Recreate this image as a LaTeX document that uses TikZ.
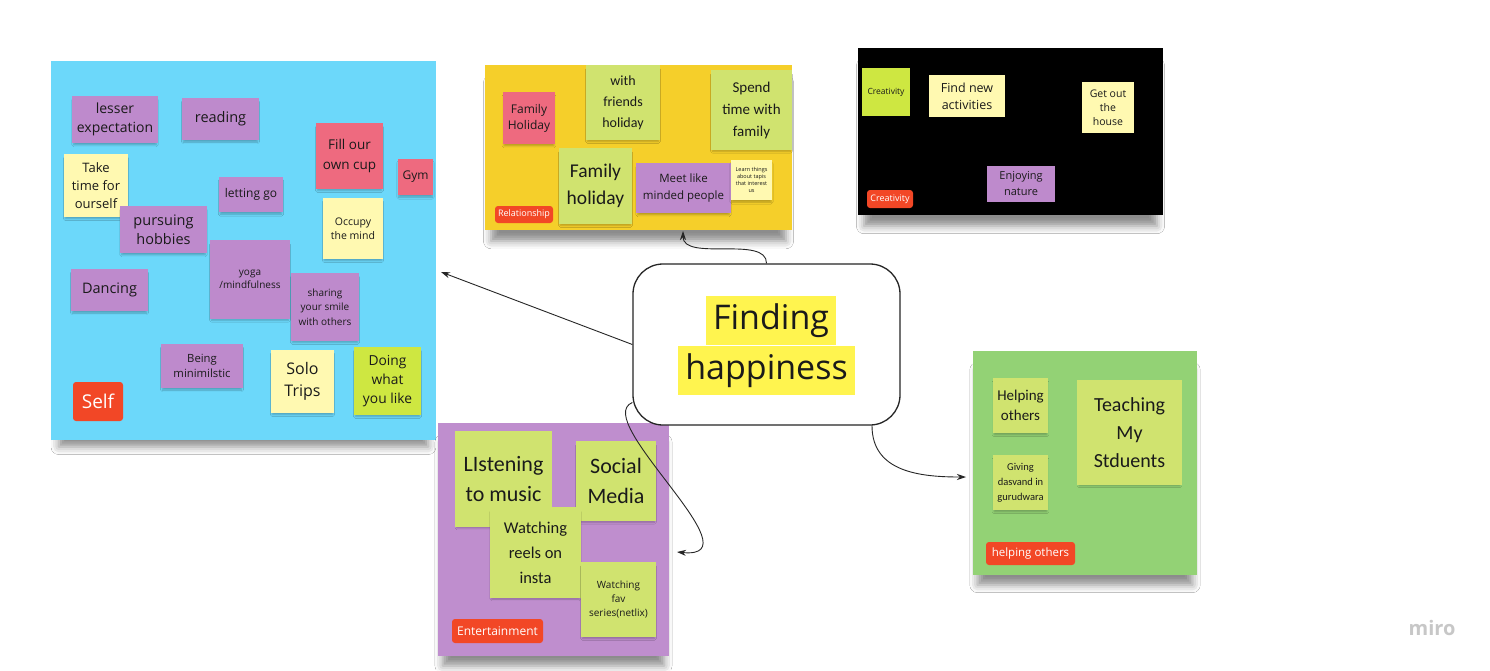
\documentclass[tikz,border=0pt]{standalone}
\usepackage{fontspec}
\setmainfont{Open Sans}
\newfontfamily\hand{Carlito}
\usetikzlibrary{arrows.meta,shadows.blur}

\definecolor{skyblue}{HTML}{6CD8FA}
\definecolor{lilac}{HTML}{BE8ACC}
\definecolor{lilacbg}{HTML}{BF8ECE}
\definecolor{paleyellow}{HTML}{FFF9B1}
\definecolor{coral}{HTML}{EE6A7F}
\definecolor{lime}{HTML}{D0E36F}
\definecolor{brightlime}{HTML}{CEE741}
\definecolor{sunflower}{HTML}{F5CF2A}
\definecolor{grass}{HTML}{93D275}
\definecolor{tagred}{HTML}{F24726}
\definecolor{marker}{HTML}{FFF44F}
\definecolor{ink}{HTML}{1A1A1A}

\newcommand{\fsz}[2]{\fontsize{#1}{#2}\selectfont}

\begin{document}
\begin{tikzpicture}[
x=1pt,y=-1pt,
boardbox/.style={fill=#1,inner sep=0pt,
  blur shadow={shadow xshift=0pt,shadow yshift=-15pt,shadow scale=0.96,shadow blur radius=8pt,shadow opacity=45}},
sticky/.style={fill=#1,inner sep=0pt,align=center,text=ink,
  blur shadow={shadow xshift=0pt,shadow yshift=-3pt,shadow scale=0.96,shadow blur radius=2pt,shadow opacity=25}},
tagbox/.style={fill=tagred,text=white,rounded corners=3pt,inner sep=0pt},
hilite/.style={fill=marker,inner xsep=7pt,inner ysep=7.5pt,text height=26pt,text depth=8pt,text=ink,font=\fsz{34}{48}},
link/.style={draw=black!85,line width=0.9pt,-{Stealth[length=9pt,width=6pt]}}
]

\fill[white] (0,0) rectangle (1490,670);
\useasboundingbox (0,0) rectangle (1490,670);

%%%%%%%%%%%%%%%%%%%%%%%%%%%%%%%%%%%%%%%%%%%%%%%%%%%%%%%%%%%%
% Self
%%%%%%%%%%%%%%%%%%%%%%%%%%%%%%%%%%%%%%%%%%%%%%%%%%%%%%%%%%%%

\node[
boardbox=skyblue,
minimum width=385,
minimum height=379
](self)
at (243.5,250.5)
{};

\node[sticky=lilac, minimum width=86, minimum height=47, font=\fsz{14}{19}]
(lesser) at (115,119.5) {lesser\\expectation};
\node[sticky=lilac, minimum width=77, minimum height=42, font=\fsz{14.5}{19}]
(reading) at (220.5,119) {reading};
\node[sticky=paleyellow, minimum width=64, minimum height=63, font=\fsz{13}{17.7}]
(taketime) at (96,185.5) {Take\\time for\\ourself};
\node[sticky=lilac, minimum width=64, minimum height=35, font=\fsz{12}{16}]
(lettinggo) at (251,194.5) {letting go};
\node[sticky=coral, minimum width=67, minimum height=66, font=\fsz{13.5}{20}]
(fillcup) at (349.5,156) {Fill our\\own cup};
\node[sticky=coral, minimum width=35, minimum height=36, font=\fsz{12}{16}]
(gym) at (415.5,177) {Gym};
\node[sticky=paleyellow, minimum width=60, minimum height=61, font=\fsz{10.5}{13.5}]
(occupy) at (353,228.5) {Occupy\\the mind};
\node[sticky=lilac, minimum width=87, minimum height=47, font=\fsz{14.5}{18.5}]
(hobbies) at (163.5,229.5) {pursuing\\hobbies};
\node[sticky=lilac, minimum width=80, minimum height=79, font=\fsz{10}{13.5}]
(yoga) at (250,279.5) {yoga\\/mindfulness};
\node[sticky=lilac, minimum width=77, minimum height=42, font=\fsz{14.5}{19}]
(dancing) at (109.5,290) {Dancing};
\node[sticky=lilac, minimum width=68, minimum height=68, font=\fsz{10}{14.3}]
(sharing) at (325,307) {sharing\\your smile\\with others};
\node[sticky=lilac, minimum width=82, minimum height=44, font=\fsz{11.3}{15.7}]
(minimal) at (202,366) {Being\\minimilstic};
\node[sticky=paleyellow, minimum width=63, minimum height=63, font=\fsz{16}{22}]
(solo) at (302.5,381.5) {Solo\\Trips};
\node[sticky=brightlime, minimum width=67, minimum height=68, font=\fsz{13.8}{19}]
(doing) at (387.5,381) {Doing\\what\\you like};
\node[tagbox, minimum width=50, minimum height=39, font=\fsz{19}{22}]
(selftag) at (98,401.5) {Self};

%%%%%%%%%%%%%%%%%%%%%%%%%%%%%%%%%%%%%%%%%%%%%%%%%%%%%%%%%%%%
% Relationship
%%%%%%%%%%%%%%%%%%%%%%%%%%%%%%%%%%%%%%%%%%%%%%%%%%%%%%%%%%%%

\node[
boardbox=sunflower,
minimum width=307,
minimum height=165
](relation)
at (638.5,147.5)
{};

\node[sticky=coral, minimum width=52, minimum height=52, font=\fsz{12}{16}]
(famhol) at (529,118) {Family\\Holiday};
\node[sticky=lime, minimum width=74, minimum height=75, font=\hand\fsz{14}{21}]
(friends) at (623,102.5) {with\\friends\\holiday};
\node[sticky=lime, minimum width=81, minimum height=80, font=\hand\fsz{15}{22}]
(spend) at (751.5,110) {Spend\\time with\\family};
\node[sticky=lime, minimum width=73, minimum height=76, font=\hand\fsz{19.5}{27}]
(famholbig) at (595.5,186) {Family\\holiday};
\node[sticky=lilac, minimum width=95, minimum height=50, font=\fsz{11.5}{16.7}]
(meet) at (683.5,188) {Meet like\\minded people};
\node[sticky=paleyellow, minimum width=41, minimum height=40, font=\fsz{5.5}{7}]
(learn) at (751.5,180) {Learn things\\about tapis\\that interest\\us};
\node[tagbox, minimum width=58, minimum height=17, font=\fsz{9}{11}]
(reltag) at (524,214.5) {Relationship};

%%%%%%%%%%%%%%%%%%%%%%%%%%%%%%%%%%%%%%%%%%%%%%%%%%%%%%%%%%%%
% Creativity
%%%%%%%%%%%%%%%%%%%%%%%%%%%%%%%%%%%%%%%%%%%%%%%%%%%%%%%%%%%%

\node[
boardbox=black,
minimum width=305,
minimum height=167
](creative)
at (1010.5,131.5)
{};

\node[sticky=brightlime, minimum width=48, minimum height=48, font=\fsz{8.5}{11}]
(crnote) at (886,92) {Creativity};
\node[sticky=paleyellow, minimum width=76, minimum height=42, font=\fsz{12.5}{16.7}]
(findnew) at (967,96) {Find new\\activities};
\node[sticky=paleyellow, minimum width=52, minimum height=51, font=\fsz{10.5}{14}]
(getout) at (1108,107.5) {Get out\\the\\house};
\node[sticky=lilac, minimum width=68, minimum height=36, font=\fsz{11}{16}]
(nature) at (1021,184) {Enjoying\\nature};
\node[tagbox, minimum width=46, minimum height=18, font=\fsz{9}{11}]
(crtag) at (890,199) {Creativity};

%%%%%%%%%%%%%%%%%%%%%%%%%%%%%%%%%%%%%%%%%%%%%%%%%%%%%%%%%%%%
% Entertainment
%%%%%%%%%%%%%%%%%%%%%%%%%%%%%%%%%%%%%%%%%%%%%%%%%%%%%%%%%%%%

\node[
boardbox=lilacbg,
minimum width=231,
minimum height=233
](enter)
at (553.5,539.5)
{};

\node[sticky=lime, minimum width=97, minimum height=96, font=\hand\fsz{22}{30}]
(listen) at (503.5,479) {LIstening\\to music};
\node[sticky=lime, minimum width=80, minimum height=80, font=\hand\fsz{22}{30}]
(social) at (616,481) {Social\\Media};
\node[sticky=lime, minimum width=91, minimum height=91, font=\hand\fsz{16.5}{25}]
(reels) at (535.5,552.5) {Watching\\reels on\\insta};
\node[sticky=lime, minimum width=75, minimum height=75, font=\fsz{10}{14.3}]
(favseries) at (618.5,599.5) {Watching\\fav\\series(netlix)};
\node[tagbox, minimum width=91, minimum height=24, font=\fsz{12}{14}]
(enttag) at (497.5,631) {Entertainment};

%%%%%%%%%%%%%%%%%%%%%%%%%%%%%%%%%%%%%%%%%%%%%%%%%%%%%%%%%%%%
% Helping others
%%%%%%%%%%%%%%%%%%%%%%%%%%%%%%%%%%%%%%%%%%%%%%%%%%%%%%%%%%%%

\node[
boardbox=grass,
minimum width=224,
minimum height=224
](helping)
at (1085,463)
{};

\node[sticky=lime, minimum width=55, minimum height=55, font=\hand\fsz{15}{20}]
(helpnote) at (1020.5,405.5) {Helping\\others};
\node[sticky=lime, minimum width=105, minimum height=105, font=\hand\fsz{20}{28}]
(teaching) at (1129.5,432.5) {Teaching\\My\\Stduents};
\node[sticky=lime, minimum width=55, minimum height=55, font=\hand\fsz{10.5}{15}]
(giving) at (1020.5,482.5) {Giving\\dasvand in\\gurudwara};
\node[tagbox, minimum width=89, minimum height=23, font=\fsz{11.5}{14}]
(helptag) at (1030.5,553.5) {helping others};

%%%%%%%%%%%%%%%%%%%%%%%%%%%%%%%%%%%%%%%%%%%%%%%%%%%%%%%%%%%%
% Central idea
%%%%%%%%%%%%%%%%%%%%%%%%%%%%%%%%%%%%%%%%%%%%%%%%%%%%%%%%%%%%

\node[
draw=black!85,
line width=1.3pt,
rounded corners=30pt,
fill=white,
minimum width=267,
minimum height=161
](hub)
at (766.5,344.5)
{};

\node[hilite](hlfind) at (771,320.5) {Finding};
\node[hilite](hlhappy) at (766.5,370) {happiness};

%%%%%%%%%%%%%%%%%%%%%%%%%%%%%%%%%%%%%%%%%%%%%%%%%%%%%%%%%%%%
% Connectors
%%%%%%%%%%%%%%%%%%%%%%%%%%%%%%%%%%%%%%%%%%%%%%%%%%%%%%%%%%%%

\coordinate (selfin) at (441,272);
\coordinate (relin) at (683,231);
\coordinate (entin) at (677,552);
\coordinate (helpin) at (966,477);

\draw[link] (hub.west) -- (selfin);
\draw[link] (hub.north) .. controls (767,235) and (683,262) .. (relin);
\draw[link] ([yshift=-58pt]hub.west) .. controls (590,420) and (760,560) .. (entin);
\draw[link] ([xshift=105.5pt]hub.south) .. controls (872,472) and (920,477) .. (helpin);

\node[text=black!22, font=\fsz{20}{24}\bfseries](miro) at (1432,628) {miro};

\end{tikzpicture}
\end{document}
